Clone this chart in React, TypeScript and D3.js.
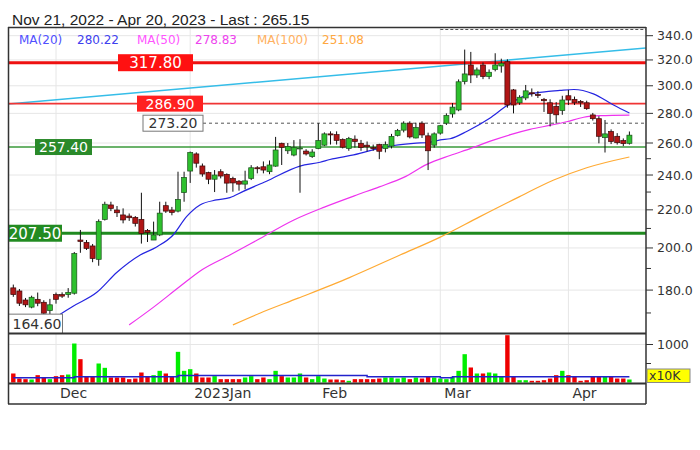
import * as d3 from "d3";

// ---- price data, one entry per trading day ----
const opens = [
  181, 179.6, 175.6, 172.5, 175.9, 174.6, 171, 178, 178, 178,
  178.6, 204, 202.8, 201, 194.4, 214.8, 222.7, 219.9, 217.2, 216.6,
  215.9, 214.8, 209, 204, 206.6, 222.3, 219.9, 219.3, 229.7, 242.4,
  253, 245.5, 241.5, 237.5, 242, 240.4, 238, 236.3, 234.6, 238,
  244.4, 245, 242, 245.4, 259.8, 255, 252.3, 256.3, 254.8, 251.3,
  256.4, 258.6, 266, 265.5, 262.3, 256.5, 262.5, 259.8, 258.6, 257,
  259, 256.4, 258, 265, 268.5, 273.2, 263.3, 273.2, 264.7, 258.6,
  266.5, 273.2, 279.6, 282.4, 303.2, 316, 308.2, 316, 307, 312.5,
  315.2, 318.6, 296.9, 287.5, 291, 294.8, 293.5, 290, 287.5, 285,
  282, 292.6, 290, 288.5, 287.5, 278.9, 276.3, 263.5, 267.6, 264.4,
  261.6, 259.8,
];
const highs = [
  182.5, 180.5, 176.5, 177.5, 178.9, 175.5, 176.1, 178.9, 179, 180.9,
  198, 209.2, 204, 202, 214.8, 224.5, 224.5, 222.1, 220.8, 218,
  216.6, 229.6, 209.7, 213.6, 224.5, 224.5, 221.6, 242, 242, 254.5,
  254, 247, 242, 243, 243.5, 241, 239, 237, 242.6, 246,
  245.4, 248.3, 248.9, 264, 260.2, 260, 261.9, 262.5, 256, 256,
  273.2, 267, 267.7, 267.7, 263, 264, 265, 262, 261, 259,
  259.5, 261, 266, 269.3, 274.5, 274.5, 273.5, 274.5, 266.8, 267,
  272, 280, 287.3, 304.8, 328.4, 326.5, 314, 318, 312.5, 325.4,
  321, 320.5, 297.6, 293, 300.6, 298, 296, 291, 290, 288,
  292.6, 296.9, 292, 289.5, 289, 280.3, 278, 275.4, 269, 266.5,
  263, 267.6,
];
const lows = [
  177, 173, 172.5, 172, 172.9, 169.5, 169.5, 174, 176.5, 176.6,
  178, 197.6, 199, 193, 191.3, 214.2, 219.3, 216.1, 212.7, 214,
  211, 202.2, 203, 204, 206, 218.3, 217, 218.6, 224.5, 235.3,
  244.5, 239, 234.6, 230, 238, 229.6, 230.2, 230.8, 231.6, 237,
  241, 241, 240.5, 245, 246.1, 253, 251.5, 229.6, 252, 250.5,
  256, 258, 259, 259, 256.5, 255, 257, 255, 254.6, 255,
  249.7, 254, 256.5, 264.3, 267, 263, 263, 263.3, 243, 257,
  265.5, 272, 277, 281.5, 301, 302, 306, 305, 305, 311,
  310, 284, 280, 286, 289.4, 292, 291, 281, 271, 273,
  279, 285.9, 285.9, 284.5, 282.5, 275, 259.8, 253.9, 259.3, 259,
  258, 259,
];
const closes = [
  178, 174.2, 173.5, 176.8, 174.2, 169.9, 173.5, 175.9, 177.3, 179,
  197.2, 203.3, 199.8, 194.8, 213.6, 223.1, 220.8, 218.4, 214.5, 215.7,
  212.7, 207.4, 207.9, 206.6, 218.2, 219.3, 218.6, 225.8, 238.6, 253.9,
  247.2, 240.6, 237.5, 240, 239.4, 235.2, 235.3, 234.6, 236.5, 244.4,
  243.8, 243, 246.1, 255.5, 257.2, 257.7, 257.2, 256.8, 253, 254.2,
  261.6, 266, 265.3, 261.7, 257.3, 263, 261, 257, 257.5, 256.6,
  254.7, 259, 264.3, 268.2, 273.2, 264, 270.3, 265.3, 255, 266,
  271.5, 278.5, 284.4, 303, 309, 308.2, 312.1, 307, 310.3, 316,
  317.4, 285.9, 285.9, 291.5, 296.2, 294.2, 292.8, 289, 280, 279,
  289.5, 289.5, 287.5, 287.5, 283.3, 276.3, 264.4, 266, 261, 260.2,
  259.6, 265.15,
];
// volume, x10K
const volumes = [
  237, 105, 88, 79, 193, 132, 88, 167, 193, 210,
  1026, 614, 149, 149, 500, 386, 132, 132, 132, 88,
  105, 263, 149, 193, 307, 237, 149, 807, 307, 351,
  237, 132, 132, 167, 88, 88, 88, 88, 132, 167,
  88, 132, 88, 307, 167, 132, 132, 237, 132, 88,
  167, 105, 79, 79, 61, 44, 88, 88, 88, 88,
  105, 132, 132, 105, 132, 88, 132, 105, 149, 132,
  105, 88, 149, 307, 745, 395, 237, 237, 263, 237,
  149, 1245, 149, 61, 61, 44, 44, 61, 105, 193,
  307, 193, 149, 44, 61, 149, 149, 149, 149, 105,
  105, 79,
];

// average volume line (step), [day index, value]
const volAvgIdx = [0, 10, 27, 58, 70, 72, 101];
const volAvgVal = [123, 149, 184, 149, 123, 149, 149];

// moving averages at sample days
const ma20Idx = [7.7, 9.8, 13.7, 17, 20.8, 23.5, 26.2, 28.4, 30.6, 33.3, 35.5, 37.7, 41.5, 47, 50.3, 51.9, 55.8, 61.2, 65.6, 68.3, 70, 71.6, 74.4, 78.1, 80.9, 84.2, 87.4, 89.6, 91.9, 95.1, 98.4, 101];
const ma20Val = [169.5, 172.9, 179, 188.2, 196.5, 200.5, 206.6, 216.3, 222.7, 225.5, 226.8, 230.4, 236.3, 245.4, 247.8, 249.5, 252.4, 257.7, 259.8, 260.5, 262.1, 262.8, 267.8, 276.6, 285.3, 293.2, 295.6, 296.5, 297.2, 294, 285.9, 280.22];
const ma50Idx = [19, 23, 27.3, 31, 35.5, 40, 46, 51, 56.3, 60, 64, 67.8, 71.6, 75, 78.7, 81.5, 84.7, 88.3, 90.7, 93.5, 96.2, 101];
const ma50Val = [165, 172.5, 181.6, 189.5, 196.5, 204, 214.5, 221.5, 228.3, 233, 238.6, 246.5, 252, 256.5, 261.9, 265.5, 269, 272, 274.2, 277.3, 278.4, 278.83];
const ma100Idx = [36, 40.5, 46.7, 55, 63.4, 70, 76.5, 83, 88.6, 94, 101];
const ma100Val = [165, 170, 176.4, 185.6, 196.5, 205.5, 216.3, 227.4, 237, 244.4, 251.08];

// trend line end points
const trendIdx = [-0.87, 103.7];
const trendVal = [286.6, 329.7];

// horizontal levels
const levels = [317.8, 286.9, 273.2, 257.4, 207.5];
const lowMark = 164.6;

const priceTicks = [180, 200, 220, 240, 260, 280, 300, 320, 340];
const minorPriceTicks = [170, 190, 210, 230, 250];
const volTicks = [1000];
const volMinorTicks = [500];
const monthIdx = [7, 29, 50, 70, 91];
const monthLabels = ["Dec", "2023Jan", "Feb", "Mar", "Apr"];

const legendItems = [
  { label: "MA(20)", value: "280.22" },
  { label: "MA(50)", value: "278.83" },
  { label: "MA(100)", value: "251.08" },
];

// ---- layout ----
const W = 700, H = 450;
const L = 8, R = 646, TOP = 28, MAIN_B = 333, VOL_T = 335, VOL_B = 383, BOT = 404;
const FONT = "'DejaVu Sans', Verdana, sans-serif";

const levelStyle = [
  { color: "#ee1111", width: 3, boxX: 118, boxW: 75, boxH: 17, fill: "#ff1111", text: "#fff", size: 15, dash: "", from: L },
  { color: "#f03535", width: 1.6, boxX: 137, boxW: 66, boxH: 16, fill: "#ff2020", text: "#fff", size: 14, dash: "", from: L },
  { color: "#555", width: 1, boxX: 143, boxW: 60, boxH: 16, fill: "#fff", text: "#333", size: 14, dash: "3,3", from: 143 },
  { color: "#3a9a3a", width: 1.5, boxX: 35, boxW: 57, boxH: 16, fill: "#2a8a2a", text: "#fff", size: 14, dash: "", from: L },
  { color: "#1f8a1f", width: 3, boxX: 8, boxW: 54, boxH: 17, fill: "#228b22", text: "#fff", size: 15, dash: "", from: L },
];
const legendPos = [
  { lx: 19, vx: 77, lc: "#5050ff", vc: "#4040ee" },
  { lx: 137, vx: 195, lc: "#ff55ff", vc: "#ee44ee" },
  { lx: 257, vx: 322, lc: "#ffb060", vc: "#ffa840" },
];

export default function App() {
  const x = d3.scaleLinear().domain([0, 101]).range([13.3, 629.4]);
  const y = d3.scaleLog().domain([180, 340]).range([290.1, 35.7]);
  const vy = d3.scaleLinear().domain([0, 1000]).range([382.5, 344.5]);

  const maLine = d3.line<[number, number]>()
    .x(d => x(d[0])).y(d => y(d[1]))
    .curve(d3.curveMonotoneX);
  const zip = (a: number[], b: number[]) => a.map((v, i) => [v, b[i]] as [number, number]);

  const volLine = d3.line<[number, number]>()
    .x(d => x(d[0])).y(d => vy(d[1]))
    .curve(d3.curveStepAfter);

  const lowY = y(d3.min(lows) as number);

  return (
    <svg width={W} height={H} style={{ position: "absolute", left: 0, top: 0, background: "#fff" }}>
      <defs>
        <clipPath id="clip-main"><rect x={L} y={TOP} width={R - L} height={MAIN_B - TOP} /></clipPath>
        <clipPath id="clip-vol"><rect x={L} y={VOL_T} width={R - L} height={VOL_B - VOL_T} /></clipPath>
      </defs>
      <rect width={W} height={H} fill="#fff" />

      <text x={12} y={24.5} fontFamily="'Liberation Sans', Arial, sans-serif" fontSize={15.5} fill="#222">
        Nov 21, 2022 - Apr 20, 2023 - Last : 265.15
      </text>

      {/* grid */}
      {priceTicks.map(t => (
        <line key={"g" + t} x1={L} x2={R} y1={y(t)} y2={y(t)} stroke="#e6e6e6" />
      ))}
      {volTicks.map(t => (
        <line key={"vg" + t} x1={L} x2={R} y1={vy(t)} y2={vy(t)} stroke="#e6e6e6" />
      ))}
      {monthIdx.map(i => (
        <line key={"m" + i} x1={x(i)} x2={x(i)} y1={TOP} y2={VOL_B} stroke="#e6e6e6" />
      ))}

      <g clipPath="url(#clip-main)">
        {/* trend line */}
        <line x1={x(trendIdx[0])} y1={y(trendVal[0])} x2={x(trendIdx[1])} y2={y(trendVal[1])}
          stroke="#35bde8" strokeWidth={1.5} />
        {/* levels */}
        {levels.map((v, i) => (
          <line key={"lv" + i} x1={levelStyle[i].from} x2={R} y1={y(v)} y2={y(v)}
            stroke={levelStyle[i].color} strokeWidth={levelStyle[i].width}
            strokeDasharray={levelStyle[i].dash || undefined} />
        ))}
        <line x1={x(70)} x2={R} y1={TOP + 1.5} y2={TOP + 1.5} stroke="#555" strokeDasharray="3,2" />

        {/* moving averages */}
        <path d={maLine(zip(ma100Idx, ma100Val)) || ""} fill="none" stroke="#ffaa33" strokeWidth={1.2} />
        <path d={maLine(zip(ma50Idx, ma50Val)) || ""} fill="none" stroke="#ee33ee" strokeWidth={1.2} />
        <path d={maLine(zip(ma20Idx, ma20Val)) || ""} fill="none" stroke="#2525e0" strokeWidth={1.2} />

        {/* candles */}
        {opens.map((o, i) => {
          const c = closes[i];
          const up = c >= o;
          const top = y(Math.max(o, c));
          const bot = y(Math.min(o, c));
          return (
            <g key={"c" + i}>
              <line x1={x(i)} x2={x(i)} y1={y(highs[i])} y2={y(lows[i])} stroke="#111" strokeWidth={1} />
              <rect x={x(i) - 2.5} y={top} width={5} height={Math.max(1, bot - top)}
                fill={up ? "#2ec02e" : "#b01515"} stroke={up ? "#1b4d1b" : "#3a0808"} strokeWidth={0.7} />
            </g>
          );
        })}

        {/* level labels */}
        {levels.map((v, i) => {
          const s = levelStyle[i];
          return (
            <g key={"lb" + i}>
              <rect x={s.boxX} y={y(v) - s.boxH / 2} width={s.boxW} height={s.boxH}
                fill={s.fill} stroke={s.fill === "#fff" ? "#777" : "none"} />
              <text x={s.boxX + s.boxW / 2} y={y(v) + s.size * 0.36} textAnchor="middle"
                fontFamily={FONT} fontSize={s.size} fill={s.text}>{v.toFixed(2)}</text>
            </g>
          );
        })}
        <rect x={L + 0.5} y={lowY} width={54} height={MAIN_B - lowY + 2} fill="#fff" stroke="#777" />
        <text x={12.5} y={lowY + 15} fontFamily={FONT} fontSize={14} fill="#333">{lowMark.toFixed(2)}</text>
      </g>

      {/* legend */}
      {legendItems.map((it, i) => (
        <g key={"lg" + i} fontFamily={FONT} fontSize={12}>
          <text x={legendPos[i].lx} y={44} fill={legendPos[i].lc}>{it.label}</text>
          <text x={legendPos[i].vx} y={44} fill={legendPos[i].vc}>{it.value}</text>
        </g>
      ))}

      {/* volume */}
      <g clipPath="url(#clip-vol)">
        {volumes.map((v, i) => (
          <rect key={"v" + i} x={x(i) - 2.2} y={vy(v)} width={4.4} height={vy(0) - vy(v)}
            fill={closes[i] >= opens[i] ? "#00ee00" : "#ee0000"} />
        ))}
        <path d={volLine(zip(volAvgIdx, volAvgVal)) || ""} fill="none" stroke="#2222cc" strokeWidth={1.5} />
      </g>

      {/* frame */}
      <g stroke="#333" fill="none">
        <line x1={L} x2={R} y1={TOP - 0.5} y2={TOP - 0.5} strokeWidth={1.3} />
        <line x1={L + 0.5} x2={L + 0.5} y1={TOP - 1} y2={BOT} strokeWidth={1.5} />
        <line x1={L} x2={R} y1={MAIN_B + 0.5} y2={MAIN_B + 0.5} strokeWidth={2} />
        <line x1={L} x2={R} y1={VOL_B + 0.5} y2={VOL_B + 0.5} strokeWidth={2} />
        <line x1={L} x2={R} y1={BOT} y2={BOT} strokeWidth={1.5} />
        <line x1={R} x2={R} y1={TOP - 1} y2={BOT} strokeWidth={1.5} />
      </g>

      {/* right price axis */}
      {priceTicks.map(t => (
        <g key={"t" + t}>
          <line x1={R} x2={R + 7} y1={y(t)} y2={y(t)} stroke="#333" />
          <text x={657} y={y(t) + 4.5} fontFamily={FONT} fontSize={12.5} fill="#333">{t.toFixed(1)}</text>
        </g>
      ))}
      {minorPriceTicks.map(t => (
        <line key={"mt" + t} x1={R} x2={R + 5} y1={y(t)} y2={y(t)} stroke="#333" />
      ))}

      {/* volume axis */}
      {volTicks.map(t => (
        <g key={"vt" + t}>
          <line x1={R} x2={R + 7} y1={vy(t)} y2={vy(t)} stroke="#333" />
          <text x={657} y={vy(t) + 4.5} fontFamily={FONT} fontSize={12.5} fill="#333">{t}</text>
        </g>
      ))}
      {volMinorTicks.map(t => (
        <line key={"vmt" + t} x1={R} x2={R + 5} y1={vy(t)} y2={vy(t)} stroke="#333" />
      ))}
      <rect x={647} y={369} width={43} height={13.5} fill="#ffff00" stroke="#888" />
      <text x={649} y={380} fontFamily={FONT} fontSize={12.5} fill="#333">x10K</text>

      {/* month labels */}
      {monthIdx.map((i, k) => (
        <text key={"ml" + i} x={x(i) + 4} y={398} fontFamily={FONT} fontSize={14} fill="#333">
          {monthLabels[k]}
        </text>
      ))}
    </svg>
  );
}
